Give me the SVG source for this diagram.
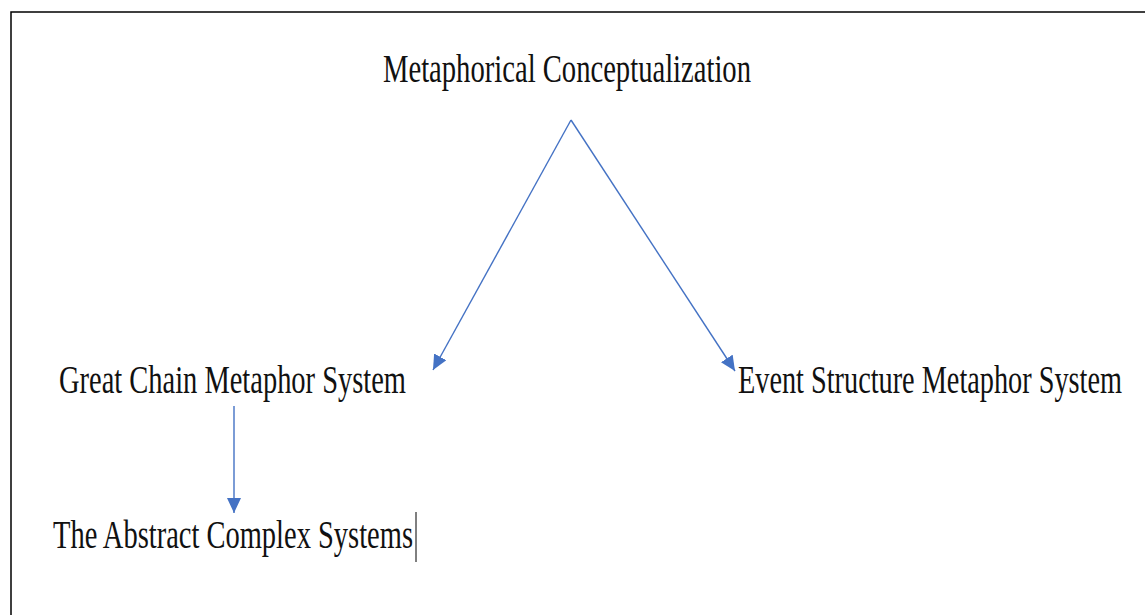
<svg xmlns="http://www.w3.org/2000/svg" width="1145" height="615" viewBox="0 0 1145 615">
<style>
.lbl{font-family:"Liberation Serif","Times New Roman",serif;font-size:40px;fill:#111;}
.con{stroke:#4472C4;stroke-width:1.4;fill:none;}
</style>
<defs>
<marker id="ah" markerUnits="userSpaceOnUse" markerWidth="16" markerHeight="14" refX="15" refY="7" orient="auto">
<path d="M0,0 L15,7 L0,14 Z" fill="#4472C4"/>
</marker>
</defs>
<rect width="1145" height="615" fill="#fff"/>
<path d="M11,615 L11,12 L1145,12" fill="none" stroke="#000" stroke-width="1.5"/>
<g id="connectors">
<path class="con" d="M571,120 L433,370" marker-end="url(#ah)"/>
<path class="con" d="M571,120 L735,371" marker-end="url(#ah)"/>
<path class="con" d="M234,406 L234,513" marker-end="url(#ah)"/>
</g>
<g id="node-metaphorical">
<text class="lbl" x="383" y="82" textLength="368" lengthAdjust="spacingAndGlyphs">Metaphorical Conceptualization</text>
</g>
<g id="node-great-chain">
<text class="lbl" x="59" y="393" textLength="347" lengthAdjust="spacingAndGlyphs">Great Chain Metaphor System</text>
</g>
<g id="node-event-structure">
<text class="lbl" x="738" y="393" textLength="384" lengthAdjust="spacingAndGlyphs">Event Structure Metaphor System</text>
</g>
<g id="node-abstract">
<text class="lbl" x="53" y="548" textLength="360" lengthAdjust="spacingAndGlyphs">The Abstract Complex Systems</text>
<line x1="416" y1="512" x2="416" y2="562" stroke="#000" stroke-width="1"/>
</g>
</svg>
